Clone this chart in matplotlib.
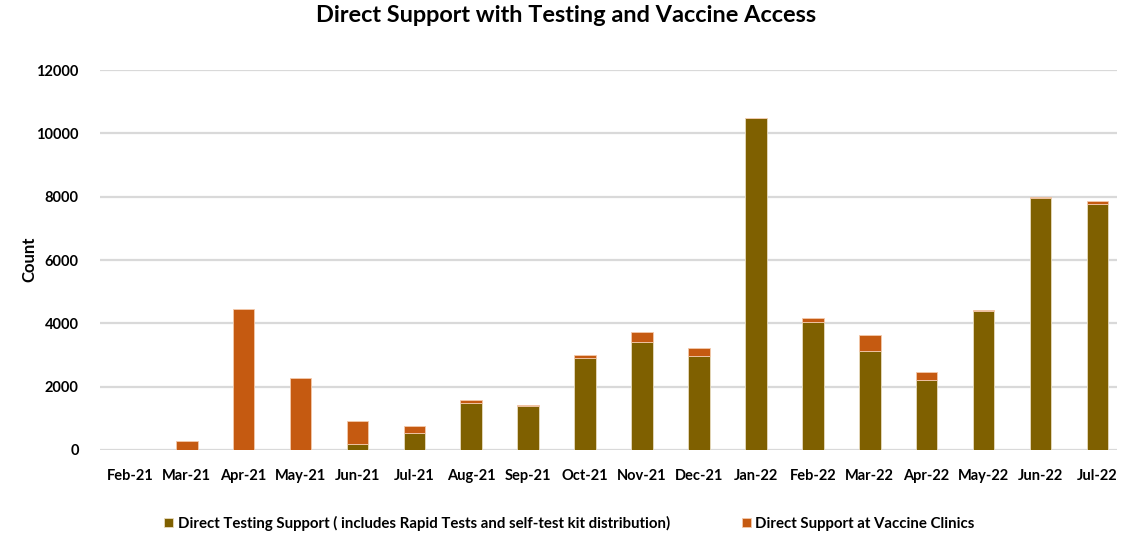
import matplotlib
matplotlib.use('Agg')
import matplotlib.pyplot as plt
import numpy as np

plt.rcParams['font.family'] = ['Lato', 'DejaVu Sans']

# data
months = ['Feb-21', 'Mar-21', 'Apr-21', 'May-21', 'Jun-21', 'Jul-21', 'Aug-21', 'Sep-21',
          'Oct-21', 'Nov-21', 'Dec-21', 'Jan-22', 'Feb-22', 'Mar-22', 'Apr-22', 'May-22',
          'Jun-22', 'Jul-22']
testing = [0, 0, 0, 0, 200, 525, 1475, 1390, 2920, 3410, 2960, 10480, 4030, 3140, 2210, 4380,
           7970, 7780]
vaccine = [0, 270, 4460, 2275, 715, 245, 105, 35, 70, 300, 245, 0, 140, 495, 240, 45, 35, 90]

testing_label = 'Direct Testing Support ( includes Rapid Tests and self-test kit distribution)'
vaccine_label = 'Direct Support at Vaccine Clinics'
yticks = [0, 2000, 4000, 6000, 8000, 10000, 12000]

c_test = '#7F6000'
c_vacc = '#C55A11'

fig = plt.figure(figsize=(11.32, 5.35), dpi=100)
ax = fig.add_axes([0.088, 0.159, 0.899, 0.71])

x = np.arange(len(months))
w = 0.38
ax.bar(x, testing, w, color=c_test, edgecolor='#e8dcc0', linewidth=0.6, label=testing_label, zorder=3)
ax.bar(x, vaccine, w, bottom=testing, color=c_vacc, edgecolor='#f3c9ab', linewidth=0.6,
       label=vaccine_label, zorder=3)

ax.set_xlim(-0.53, 17.35)
ax.set_ylim(0, 12000)
ax.set_yticks(yticks)
ax.set_yticklabels([str(v) for v in yticks], fontsize=10.5, fontweight='bold')
ax.set_xticks(x)
ax.set_xticklabels(months, fontsize=10.5, fontweight='bold')
ax.tick_params(axis='x', length=0, pad=14)
ax.tick_params(axis='y', length=0, pad=15)
ax.grid(axis='y', color='#d9d9d9', linewidth=1.6, zorder=0)
for s in ax.spines.values():
    s.set_visible(False)

# y label sits close to the left edge in the original
fig.text(0.026, 0.515, 'Count', rotation=90, fontsize=12, fontweight='bold',
         ha='center', va='center')
fig.suptitle('Direct Support with Testing and Vaccine Access', fontsize=16.9, fontweight='bold',
             y=0.99)

fig.legend(loc='center', bbox_to_anchor=(0.503, 0.022), ncol=2, frameon=False,
           prop={'size': 10.8, 'weight': 'bold'}, handlelength=0.6, handleheight=0.6,
           handletextpad=0.3, columnspacing=4.8)

fig.savefig('out.png', dpi=100)
